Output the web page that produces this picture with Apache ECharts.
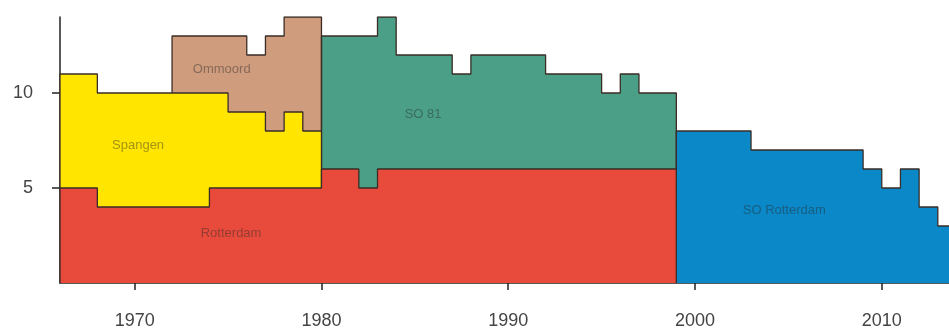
<!DOCTYPE html>
<html>
<head>
<meta charset="utf-8">
<script src="https://cdn.jsdelivr.net/npm/echarts@6/dist/echarts.min.js"></script>
<style>
  html, body { margin: 0; padding: 0; background: #fff; }
  #chart { width: 949px; height: 331px; }
</style>
</head>
<body>
<div id="chart"></div>
<script>
// yearly counts, each value holds from that year to the next
const rotterdamStart = 1966;
const rotterdam = [5, 5, 4, 4, 4, 4, 4, 4, 5, 5, 5, 5, 5, 5, 6, 6, 5,
  6, 6, 6, 6, 6, 6, 6, 6, 6, 6, 6, 6, 6, 6, 6, 6];
const spangenStart = 1966;
const spangen = [6, 6, 6, 6, 6, 6, 6, 6, 5, 4, 4, 3, 4, 3];
const ommoordStart = 1972;
const ommoord = [3, 3, 3, 4, 3, 5, 5, 6];
const so81Start = 1980;
const so81 = [7, 7, 8, 8, 6, 6, 6, 5, 6, 6, 6, 6, 5, 5, 5, 4, 5, 4, 4];
const soRotterdamStart = 1999;
const soRotterdam = [8, 8, 8, 8, 7, 7, 7, 7, 7, 7, 6, 5, 6, 4, 3];

const xTicks = [1970, 1980, 1990, 2000, 2010];
const yTicks = [5, 10];

// value of a series in a given year (0 outside its range)
function valueAt(start, vals, year) {
  const i = year - start;
  return i >= 0 && i < vals.length ? vals[i] : 0;
}

// stacking order: Rotterdam at the bottom, then Spangen / SO 81, then Ommoord
function baseRotterdam() { return 0; }
function baseSpangen(y) { return valueAt(rotterdamStart, rotterdam, y); }
function baseOmmoord(y) { return baseSpangen(y) + valueAt(spangenStart, spangen, y); }
function baseSo81(y) { return valueAt(rotterdamStart, rotterdam, y); }
function baseSoRotterdam() { return 0; }

// outline of a stacked block, drawn with step 'start'
function stepPoints(start, vals, baseOf) {
  const pts = [[start, baseOf(start)]];
  vals.forEach((v, i) => {
    pts.push([start + i + 1, baseOf(start + i) + v]);
  });
  const last = start + vals.length - 1;
  pts.push([last + 1, baseOf(last)]);
  return pts;
}

function block(name, color, data, z) {
  return {
    name: name,
    type: 'line',
    step: 'start',
    symbol: 'none',
    z: z,
    data: data,
    lineStyle: { color: '#3a2c26', width: 1.3 },
    areaStyle: { color: color, opacity: 1, origin: 'start' },
    silent: true
  };
}

const chart = echarts.init(document.getElementById('chart'));
chart.setOption({
  animation: false,
  backgroundColor: '#fff',
  textStyle: { fontFamily: 'Liberation Sans, Arial, sans-serif' },
  grid: { left: 60, right: 0, top: 17, bottom: 48 },
  xAxis: {
    type: 'value',
    min: 1966,
    max: 2013.6,
    splitLine: { show: false },
    axisLine: { lineStyle: { color: '#222', width: 1.5 } },
    axisTick: { customValues: xTicks, length: 7, lineStyle: { color: '#222', width: 1.5 } },
    axisLabel: {
      customValues: xTicks,
      fontSize: 18,
      color: '#444',
      margin: 29,
      formatter: (v) => String(v)
    }
  },
  yAxis: {
    type: 'value',
    min: 0,
    max: 14,
    splitLine: { show: false },
    axisLine: { show: true, lineStyle: { color: '#222', width: 1.5 } },
    axisTick: { show: true, customValues: yTicks, length: 8, lineStyle: { color: '#222', width: 1.5 } },
    axisLabel: { customValues: yTicks, fontSize: 18, color: '#444', margin: 27 }
  },
  series: [
    block('Ommoord', '#cf9c7d', stepPoints(ommoordStart, ommoord, baseOmmoord), 1),
    block('SO 81', '#4a9f86', stepPoints(so81Start, so81, baseSo81), 1),
    block('SO Rotterdam', '#0a88c8', stepPoints(soRotterdamStart, soRotterdam, baseSoRotterdam), 1),
    block('Spangen', '#ffe500', stepPoints(spangenStart, spangen, baseSpangen), 2),
    block('Rotterdam', '#e84b3b', stepPoints(rotterdamStart, rotterdam, baseRotterdam), 3),
    {
      type: 'scatter',
      symbolSize: 0,
      z: 10,
      silent: true,
      label: {
        show: true,
        position: 'inside',
        formatter: '{b}',
        fontSize: 13,
        color: 'rgba(40,40,40,0.55)'
      },
      data: [
        { name: 'Ommoord', value: [1974.66, 11.23] },
        { name: 'Spangen', value: [1970.18, 7.24] },
        { name: 'Rotterdam', value: [1975.16, 2.63] },
        { name: 'SO 81', value: [1985.44, 8.86] },
        { name: 'SO Rotterdam', value: [2004.78, 3.8] }
      ]
    }
  ]
});
</script>
</body>
</html>
